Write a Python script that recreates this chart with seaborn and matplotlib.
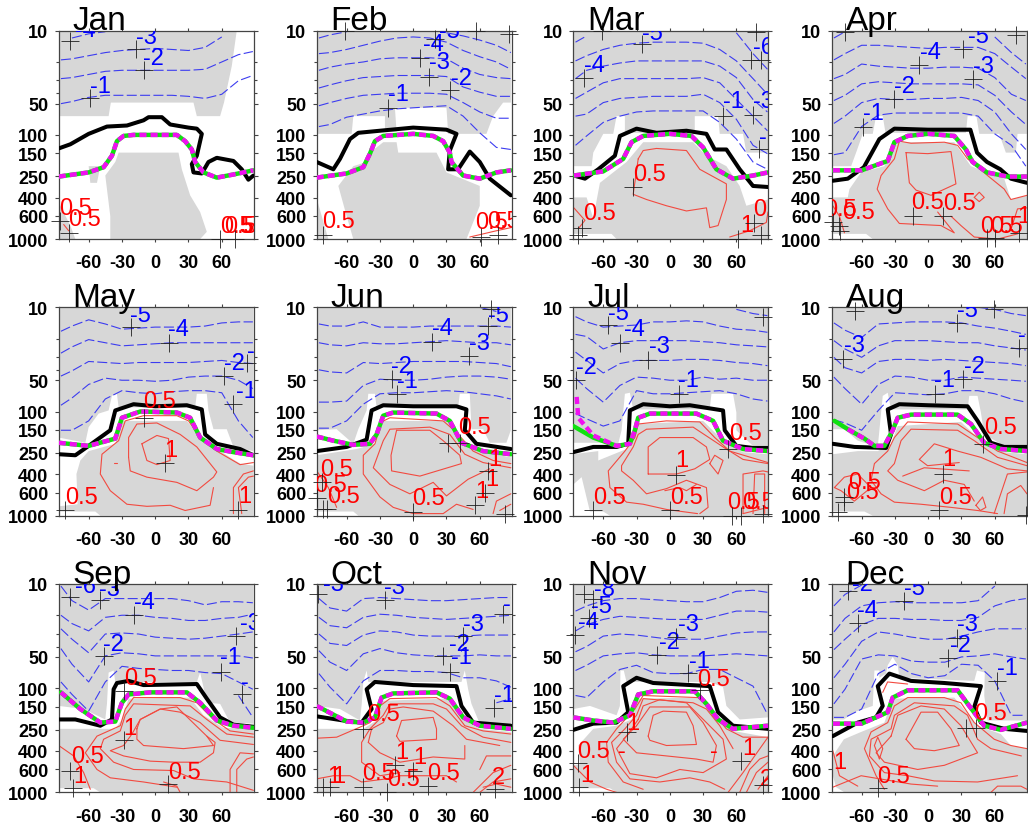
import numpy as np
import pandas as pd
import matplotlib
matplotlib.use("Agg")
import matplotlib.pyplot as plt
import seaborn as sns

# pressure values below are stored as 100*log10(p/hPa): 100 = 10 hPa, 300 = 1000 hPa
months = ['Jan', 'Feb', 'Mar', 'Apr', 'May', 'Jun', 'Jul', 'Aug', 'Sep', 'Oct', 'Nov', 'Dec']
lat_ticks = [-60, -30, 0, 30, 60]
p_ticks = [10, 50, 100, 150, 250, 400, 600, 1000]
p_minor = [20, 30, 40]
blue_lat = [-85, -75, -60, -45, -30, -15, 0, 15, 30, 45, 60, 75, 88]
N = None

# ---- January
jan_blue = [
    [N, 107, 103, 101, N, N, N, N, N, N, N, N, N],
    [128, 127, 124, 121, 119, 118, 117, 118, 119, 116, 106, N, N],
    [146, 145, 142, 139, 138, 138, 138, 138, 138, 137, 130, 123, 120],
    [170, 168, 164, 162, 162, 162, 162, 162, 163, 165, 161, 148, 143],
]
jan_black = ([-87, -76.5, -60, -43.5, -25.5, -10.5, -6, 6, 13.5, 30, 37.5, 42, 37.5, 33, 34.5, 42, 48, 55.5, 70.5, 78, 84, 88.5],
             [213, 209, 199, 192, 191, 186, 183, 183, 190, 193, 194, 199, 220, 228, 236, 237, 226, 222, 225, 233, 243, 239])
jan_mag = ([-87, -60, -46.5, -39, -34.5, -28.5, -19.5, 19.5, 27, 33, 36, 43.5, 55.5, 70.5, 88.5],
           [240, 236, 231, 220, 206, 201, 200, 200, 206, 214, 226, 236, 241, 238, 234])
jan_green = jan_mag
jan_grey = [
    ([-87, 73.5, 69, 62, 58.5, 37.5, 34.5, -40, -42, -87], [100, 100, 134, 169, 182, 182, 169, 169, 182, 182]),
    ([-33, 21, 24, 31.5, 40.5, 46.5, 40.5, -40.5, -40.5, -45, -36], [217, 217, 233, 258, 274, 293, 300, 300, 278, 239, 226]),
    ([-60, -49.5, -52.5, -58.5], [230, 230, 246, 246]),
    ([-87, -76.5, -72, -87], [265, 287, 300, 300]),
]
jan_red = [([-82.5, -78], [286, 292])]
jan_cross = [(-77, 110), (-17, 118), (-10.5, 138), (-59, 165), (-86, 283), (-78, 294), (58.5, 300), (72, 300)]
jan_text_blue = [(-49.5, 153, '-1'), (-1.5, 126, '-2'), (-7.5, 106, '-3'), (-63, 99, '-4')]
jan_text_red = [(-72, 270, '0.5'), (-63.6, 281, '0.5'), (73, 287, '0.5'), (77, 287, '0.5'), (82, 287, '5')]

# ---- February
feb_blue = [
    [107, 104, 101, N, N, N, N, N, 102, 105, 109, 114, 121],
    [122, 121, 118, 114, 110, 107, 106, 107, 111, 119, 125, 130, 137],
    [138, 135, 132, 130, 127, 126, 126, 126, 127, 136, 142, 145, 146],
    [155, 152, 148, 145, 144, 143, 143, 143, 144, 154, 159, 163, 163],
    [172, 169, 165, 162, 161, 160, 160, 160, 161, 169, 178, 184, 184],
    [192, 190, 183, 180, 177, 175, 174, 173, 172, 182, 198, 212, 214],
]
feb_black = ([-87, -72, -66, -57, -49.5, -30, 0, 30, 39, 33, 31.5, 40.5, 51, 60, 69, 88],
             [226, 233, 223, 204, 198, 196, 193, 195, 199, 215, 233, 233, 216, 226, 242, 258])
feb_mag = ([-87, -60, -45, -39, -34.5, -27, 0, 18, 27, 33, 34.5, 45, 60, 75, 88],
           [241, 237, 231, 218, 206, 201, 199, 201, 206, 217, 226, 239, 242, 236, 234])
feb_green = feb_mag
feb_grey = [
    ([-87, 88, 88, 81, 72, 66, 31.5, 30, -16.5, -15, -25.5, -25.5, -54, -55.5, -87],
     [100, 100, 169, 169, 182, 199, 199, 174, 174, 197, 197, 182, 182, 199, 199]),
    ([-42, -39, -27, -15, -13.5, 21, 30, 60, 60, 48, -54, -60, -67.5, -54],
     [226, 217, 207, 207, 217, 217, 236, 249, 268, 300, 300, 278, 249, 230]),
    ([-87, -76.5, -87], [261, 300, 300]),
]
feb_red = [([51, 75, 88], [298, 292, 289])]
feb_cross = [(-61.5, 100), (19.5, 108), (6, 126), (14, 144), (33.6, 157), (-22.5, 174), (57, 100), (86, 103),
             (-81.6, 296), (61.5, 298), (76.5, 296)]
feb_text_blue = [(33, 100, '-5'), (18, 113, '-4'), (23.4, 130, '-3'), (43.5, 145, '-2'), (-13.5, 161, '-1')]
feb_text_red = [(-67, 283, '0.5'), (70.5, 284, '0.5'), (81, 283, '0.5')]

# ---- March
mar_blue = [
    [111, 105, N, N, N, N, N, N, N, N, 102, 122, 137],
    [129, 124, 118, 114, 112, 111, 111, 111, 112, 118, 129, 146, 161],
    [146, 138, 134, 131, 129, 129, 129, 129, 129, 134, 145, 166, 178],
    [165, 159, 150, 146, 146, 146, 146, 146, 145, 150, 166, 182, 196],
    [182, 180, 169, 165, 164, 163, 163, 163, 161, 169, 185, 210, 218],
    [210, 201, 188, 182, 178, 177, 177, 177, 177, 188, 204, 226, 233],
]
mar_black = ([-86.5, -76.5, -64.5, -49.5, -45, -30, -12, 15, 33, 40.5, 51, 63, 75, 88.5],
             [239, 242, 233, 220, 201, 194, 198, 196, 199, 214, 214, 233, 249, 250])
mar_mag = ([-86.5, -60, -42, -34.5, -24, 0, 19.5, 30, 42, 57, 75, 88.5],
           [239, 235, 223, 207, 201, 199, 201, 212, 233, 242, 239, 236])
mar_green = mar_mag
mar_grey = [
    ([-87, 88.5, 88.5, 69, 66, 45, 43.5, 22.5, 22.5, -40.5, -40.5, -48, -51, -60, -69, -70.5, -87],
     [100, 100, 217, 217, 199, 199, 182, 182, 198, 198, 182, 182, 199, 199, 217, 230, 230]),
    ([-63, -39, -24, 21, 33, 51, 63, 69, 88.5, 88.5, -48, -52.5, -87, -87, -75, -69],
     [246, 226, 207, 207, 220, 230, 249, 268, 262, 300, 300, 295, 295, 260, 260, 280]),
]
mar_red = [
    ([-28.5, -24, -12, 15, 27, 51, 51, 43.5, 36, 33, 15, -3, -21, -33, -28.5],
     [223, 215, 213, 215, 233, 247, 262, 287, 289, 270, 273, 268, 262, 257, 223]),
    ([-86.5, -76.5, -82.5], [270, 282, 290]),
    ([54, 72, 87, 88.5], [298, 292, 284, 274]),
]
mar_cross = [(-61.5, 100), (-25, 113), (-77, 145), (78, 101), (73.5, 128), (82.5, 128), (48, 182), (75, 181),
             (80, 214), (-33.6, 250), (-79.5, 289), (-82.5, 296), (76, 285), (61.5, 300), (82.5, 296)]
mar_text_blue = [(-15.6, 102, '-5'), (-67.5, 133, '-4'), (84.6, 116, '-6'), (57, 167, '-1'), (84, 167, '-3'), (84, 202, '-')]
mar_text_red = [(-18.6, 238, '0.5'), (-63, 275, '0.5'), (69, 286, '1'), (81, 271, '0')]

# ---- April
apr_blue = [
    [107, 101, N, N, N, N, N, N, N, N, 106, 121, 132],
    [128, 122, 114, 114, 115, 116, 117, 116, 116, 116, 122, 135, 146],
    [146, 142, 132, 134, 135, 136, 136, 135, 135, 136, 145, 161, 167],
    [167, 162, 151, 149, 150, 151, 151, 151, 151, 152, 162, 178, 190],
    [189, 182, 169, 165, 166, 166, 165, 165, 164, 167, 178, 199, 214],
    [219, 217, 192, 181, 179, 179, 179, 179, 179, 182, 199, 210, 230],
]
apr_black = ([-86, -72.5, -58, -44, -30.5, 0, 38, 44, 53, 65, 74.5, 89],
             [244, 242, 231, 204, 194, 195, 195, 217, 226, 233, 242, 246])
apr_mag = ([-86, -60, -36.5, -30.5, -18.5, 0, 23.5, 34, 40, 53, 71.5, 89],
           [234, 234, 225, 207, 201, 199, 201, 214, 226, 236, 240, 240])
apr_green = apr_mag
apr_grey = [
    ([-86, 89, 89, 80.5, 79, 70, 64, 46, 43.5, 35.5, 34, -38.5, -41, -47, -50, -59, -65, -69.5, -86],
     [100, 100, 199, 199, 217, 217, 199, 199, 182, 182, 198, 198, 182, 182, 199, 199, 217, 230, 230]),
    ([-71, -60.5, -39.5, -30.5, 23.5, 38.5, 53.5, 68.5, 74.5, 89, 89, -50, -56, -86, -86, -72.5],
     [252, 236, 230, 207, 207, 230, 236, 242, 262, 258, 300, 300, 295, 295, 260, 260]),
]
apr_red = [
    ([89, 74.5, 68.5, 53.5, 35.5, 26.5, 14.5, -15.5, -26, -30.5, -42.5, -46, -36.5, -26, 11.5, 23.5, 14.5, 8.5],
     [258, 262, 252, 239, 223, 210, 207, 208, 206, 223, 239, 252, 271, 285, 287, 294, 282, 274]),
    ([-20, -0.5, 20.5, 25, 2.5, -11, -17, -20], [217, 218, 216, 247, 258, 253, 246, 217]),
    ([20.5, 29.5, 41.5, 62.5, 80.5], [278, 287, 298, 300, 295]),
    ([41.5, 46, 50.5, 46, 41.5], [260, 255, 260, 264, 260]),
    ([74.5, 80.5, 89], [291, 271, 270]),
    ([-86, -80, -75.5], [268, 278, 294]),
]
apr_cross = [(-75, 101), (-8, 133), (31.5, 118), (79, 104), (40, 146), (-30.6, 166), (-58.5, 192), (-14, 278),
             (13, 278), (-86, 284), (-80, 287), (-79.5, 292), (53, 299), (60, 299), (82, 294)]
apr_text_blue = [(45, 105, '-5'), (1.8, 120, '-4'), (50, 134, '-3'), (-21, 153, '-2'), (-49, 179, '-1')]
apr_text_red = [(-0.6, 264, '0.5'), (28, 265, '0.5'), (-79, 271, '0.5'), (-63, 274, '0.5'), (62, 287, '0.5'),
                (71, 287, '0.5'), (86, 278, '1')]

# ---- May
may_blue = [
    [123, 118, 112, 116, 121, 120, 119, 119, 119, 118, 115, 114, 114],
    [144, 138, 131, 134, 137, 136, 135, 134, 134, 134, 134, 134, 134],
    [166, 161, 152, 153, 154, 153, 153, 153, 153, 152, 151, 153, 154],
    [194, 187, 174, 168, 170, 170, 171, 170, 167, 166, 166, 170, 178],
    [218, 218, 209, 188, 180, 182, 183, 181, 180, 180, 182, 209, 225],
]
may_black = ([-87, -72, -60, -40.5, -36, -19.5, 0, 28.5, 42, 45, 55.5, 76.5, 88.5],
             [241, 242, 233, 218, 199, 193, 195, 194, 198, 222, 231, 236, 242])
may_mag = ([-87, -60, -36, -30, -13.5, 19.5, 31.5, 40.5, 55.5, 70.5, 88.5],
           [230, 233, 226, 206, 200, 201, 206, 225, 236, 239, 242])
may_green = may_mag
may_grey = [
    ([-87, 88.5, 88.5, 70.5, 64.5, 52.5, 48, 46.5, 37.5, 36, -33, -34.5, -39, -42, -51, -60, -63, -87],
     [100, 100, 238, 234, 217, 217, 199, 183, 183, 196, 196, 183, 185, 199, 202, 215, 230, 225]),
    ([-67.5, -60, -36, -30, 28.5, 43.5, 58.5, 76.5, 88.5, 88.5, -49.5, -54, -87, -87, -70, -71],
     [247, 238, 231, 209, 209, 228, 238, 250, 252, 300, 300, 296, 296, 291, 289, 260]),
]
may_red = [
    ([-24, -22.5, -7.5, 19.5, 37.5, 52.5, 55.5, 37.5, 22.5, 1.5, -16.5, -24, -24],
     [244, 257, 263, 268, 276, 263, 258, 234, 222, 211, 212, 225, 244]),
    ([88.5, 76.5, 55.5, 40.5, 30, 19.5, -10.5, -27, -33, -48, -49.5, -40.5, -25.5, -7.5, 13.5, 27, 49.5, 52.5],
     [249, 251, 238, 225, 209, 204, 204, 209, 228, 241, 260, 276, 289, 291, 290, 295, 290, 273]),
    ([-12, 1.5, 12, 13.5, 1.5, -7.5, -12], [231, 223, 226, 247, 251, 247, 231]),
    ([70.5, 70.5, 79.5, 88.5], [298, 273, 260, 257]),
    ([78, 75, 84, 88.5], [298, 273, 263, 262]),
    ([-37.5, -34.5], [249, 249]),
]
may_cross = [(-22, 119), (12, 134), (83, 153), (62, 166), (70.5, 193), (-10.5, 206), (8.4, 249), (-81.6, 295), (75, 295)]
may_text_blue = [(-13, 107, '-5'), (21, 121, '-4'), (71, 153, '-2'), (82.5, 180, '-1'), (86, 142, '-')]
may_text_red = [(3.6, 190, '0.5'), (14.4, 237, '1'), (-66.6, 282, '0.5'), (81, 281, '1')]

# ---- June
jun_blue = [
    [N, N, N, N, N, N, N, N, N, N, 100, 104, N],
    [116, 118, 118, 114, 119, 119, 119, 118, 118, 118, 118, 118, 119],
    [134, 136, 137, 134, 135, 135, 134, 133, 132, 133, 134, 134, 136],
    [160, 162, 163, 153, 154, 153, 152, 152, 152, 152, 153, 154, 157],
    [191, 191, 190, 175, 169, 170, 170, 169, 167, 166, 166, 167, 169],
    [216, 216, 209, 193, 183, 182, 182, 181, 180, 181, 183, 185, 188],
]
jun_black = ([-87, -60, -42, -37.5, -27, 0, 39, 48, 46.5, 57, 88],
             [238, 234, 227, 199, 194, 195, 195, 198, 218, 231, 236])
jun_mag = ([-87, -72, -54, -39, -33, -27, -18, 21, 33, 43.5, 63, 88],
           [224, 228, 232, 231, 222, 204, 201, 202, 209, 230, 238, 241])
jun_green = jun_mag
jun_grey = [
    ([-87, 88, 88, 84, 69, 63, 52.5, 51, 42, 40.5, -33, -34.5, -40.5, -42, -49.5, -54, -69, -87],
     [100, 100, 218, 230, 230, 217, 217, 183, 183, 196, 196, 183, 183, 199, 217, 231, 217, 218]),
    ([-87, -69, -51, -34.5, -27, 30, 45, 63, 88, 88, -49.5, -54, -87],
     [242, 239, 236, 231, 209, 209, 231, 239, 244, 300, 300, 296, 296]),
]
jun_red = [
    ([88, 72, 54, 39, 27, -21, -28.5, -34.5, -45, -45, -30, -18, 0, 27, 39, 54],
     [250, 247, 238, 220, 209, 206, 210, 231, 242, 260, 282, 292, 298, 298, 289, 294]),
    ([88, 63, 46.5, 33, 15, -21, -27, -36, -36, -21, -3, 18, 30, 49.5, 69],
     [254, 249, 241, 222, 215, 217, 228, 254, 254, 270, 279, 268, 281, 265, 255]),
    ([-15, -20, -19.5, 6, 43.5, 42, 27, 15, -15], [218, 242, 257, 262, 250, 242, 228, 218, 218]),
    ([-87, -76.5, -69], [257, 273, 292]),
    ([72, 75, 88], [298, 286, 279]),
    ([78, 88], [295, 289]),
]
jun_cross = [(70, 102), (67.5, 118), (17, 133), (50, 147), (-19.5, 169), (-15, 183), (31.5, 230), (42, 230),
             (67.5, 257), (64.5, 278), (55.5, 290), (-82.5, 268), (-87, 283), (-81, 294), (-78, 294), (-0.6, 296), (83, 298)]
jun_text_blue = [(76.5, 107, '-5'), (26, 120, '-4'), (60, 134, '-3'), (-10.5, 156, '-2'), (-5.4, 171, '-1')]
jun_text_red = [(55.5, 215, '0.5'), (-69, 255, '0.5'), (-75, 271, '0.5'), (-63, 281, '0.5'), (13.5, 283, '0.5'),
                (73.5, 246, '1'), (70.5, 265, '1'), (62, 276, '1')]

# ---- July
jul_blue = [
    [N, N, N, N, N, N, N, N, N, N, 102, 106, 108],
    [109, 114, 119, 118, 117, 114, 114, 113, 114, 118, 121, 122, 124],
    [126, 128, 140, 134, 132, 132, 132, 132, 133, 134, 136, 137, 138],
    [143, 151, 163, 154, 151, 151, 151, 150, 150, 151, 153, 154, 156],
    [168, 178, 191, 175, 167, 168, 170, 170, 167, 169, 168, 170, 170],
    [202, 207, 214, 209, 180, 183, 183, 182, 181, 180, 183, 188, 190],
]
jul_black = ([-87, -69, -48, -37.5, -36, -24, 0, 18, 48, 49.5, 60, 75, 88.5],
             [239, 234, 234, 231, 199, 193, 195, 194, 199, 218, 233, 235, 235])
jul_mag = ([-84, -82.5, -69, -48, -36, -31.5, -28.5, -18, 24, 39, 48, 66, 88.5],
           [186, 206, 223, 233, 231, 218, 206, 202, 202, 209, 228, 236, 238])
jul_green = ([-87, -69, -48, -36, -31.5, -28.5, -18, 24, 39, 48, 66, 88.5],
             [214, 225, 233, 231, 218, 206, 202, 202, 209, 228, 236, 238])
jul_grey = [
    ([-87, 88.5, 88.5, 75, 60, 60, 57, 37.5, 36, -33, -36, -40.5, -43.5, -46.5, -64.5, -87],
     [100, 100, 236, 233, 218, 201, 183, 183, 198, 198, 182, 183, 218, 231, 230, 230]),
    ([-87, -64.5, -64.5, -39, -34.5, -28.5, 30, 48, 66, 88.5, 88.5, -54, -60, -72, -79.5, -87],
     [241, 238, 247, 236, 231, 212, 209, 228, 239, 241, 300, 300, 296, 296, 263, 270]),
]
jul_red = [
    ([88.5, 54, 40.5, 27, -3, -28.5, -31.5, -40.5, -55.5, -54, -39, -24, -3, 25],
     [249, 238, 225, 210, 209, 212, 225, 238, 257, 273, 287, 289, 294, 298]),
    ([88.5, 66, 48, 21, -21, -28.5, -33, -43.5, -43.5, -33, -21, -3, 15, 33, 34.5, 27],
     [250, 246, 234, 215, 217, 222, 234, 252, 257, 266, 279, 274, 266, 273, 292, 298]),
    ([-19.5, -19.5, -9, 21, 33, 36, 22.5, 6, -19.5], [260, 234, 225, 225, 234, 246, 255, 260, 260]),
    ([36, 40.5, 48, 43.5, 36], [250, 242, 247, 260, 250]),
    ([-4.5, 9, 15, 24], [276, 273, 276, 270]),
    ([66, 66, 84, 88.5], [298, 260, 257, 258]),
    ([75, 76.5, 85.5, 85.5], [298, 260, 260, 298]),
    ([66, 88.5], [298, 292]),
]
jul_cross = [(84, 109), (-55.5, 117), (-45, 134), (-19.5, 151), (-85, 170), (8.4, 183), (5.4, 261), (52.5, 236),
             (-69, 295), (0, 295), (56.4, 300), (64.5, 300), (84, 298)]
jul_text_blue = [(-46.5, 105, '-5'), (-31.5, 121, '-4'), (-9, 137, '-3'), (-75, 157, '-2'), (16.5, 170, '-1')]
jul_text_red = [(68, 221, '0.5'), (11, 247, '1'), (-54.6, 282, '0.5'), (15, 282, '0.5'), (66, 287, '0.5'), (79.5, 287, '0.5')]

# ---- August
aug_blue = [
    [N, N, N, N, N, N, N, N, N, 100, 102, 106, 108],
    [115, 122, 129, 116, 115, 114, 114, 114, 115, 118, 120, 123, 126],
    [132, 140, 148, 137, 132, 132, 132, 133, 134, 134, 137, 139, 141],
    [148, 158, 163, 152, 150, 150, 151, 150, 151, 152, 153, 154, 156],
    [167, 178, 193, 174, 166, 167, 170, 170, 167, 168, 169, 170, 171],
    [208, 211, 218, 199, 182, 183, 184, 183, 180, 180, 183, 188, 191],
]
aug_black = ([-86, -66.5, -38, -33.5, -36.5, -26, 0, 35.5, 44.5, 56.5, 68.5, 89],
             [231, 234, 235, 222, 198, 193, 194, 195, 209, 230, 234, 234])
aug_mag = ([-72.5, -57.5, -48.5, -39.5, -32, -27.5, -15.5, 26.5, 38.5, 50.5, 65.5, 89],
           [217, 226, 233, 233, 218, 206, 203, 203, 212, 230, 236, 238])
aug_green = ([-84.5, -72.5, -57.5, -48.5, -39.5, -32, -27.5, -15.5, 26.5, 38.5, 50.5, 65.5, 89],
             [209, 217, 226, 233, 233, 218, 206, 203, 203, 212, 230, 236, 238])
aug_grey = [
    ([-86, 89, 89, 68.5, 50.5, 47.5, 44.5, 37, 35.5, -33.5, -36.5, -41, -44, -45.5, -63.5, -75.5, -86],
     [100, 100, 236, 233, 222, 201, 185, 185, 198, 198, 182, 185, 218, 234, 228, 217, 217]),
    ([-86, -63.5, -45.5, -33.5, -27.5, 29.5, 50.5, 68.5, 89, 89, -50, -57.5, -86],
     [241, 238, 238, 231, 214, 210, 231, 239, 241, 300, 300, 296, 296]),
]
aug_red = [
    ([89, 62.5, 44.5, 26.5, -18.5, -30.5, -36.5, -48.5, -51.5, -42.5, -30.5, -6.5, 20.5, 44.5, 62.5],
     [249, 238, 225, 212, 210, 225, 238, 250, 266, 279, 287, 289, 292, 295, 298]),
    ([89, 62.5, 41.5, 26.5, -15.5, -24.5, -30.5, -36.5, -27.5, -3.5, 14.5, 32.5, 41.5],
     [252, 244, 228, 218, 217, 228, 250, 257, 266, 276, 266, 270, 286]),
    ([-8, 5.5, 14.5, 26.5, 47.5, 71.5, 89], [246, 231, 234, 238, 244, 255, 257]),
    ([-8, -0.6, 28], [246, 252, 249]),
    ([-23, -3.6, 37], [262, 254, 257]),
    ([-84.6, -75.6, -63.6, -51.6, -66.6, -78.6, -84.6], [273, 263, 260, 273, 286, 276, 273]),
    ([59.4, 65.4, 71.4, 89], [298, 279, 260, 258]),
    ([68.4, 71.4, 83.4, 89], [298, 279, 271, 279]),
    ([43, 49, 52, 47, 43], [290, 282, 292, 295, 290]),
]
aug_cross = [(-66, 104), (59.4, 102), (25.5, 115), (-77, 150), (82, 139), (31.5, 169), (6.3, 183), (13, 260),
             (49, 231), (10, 295), (-75.6, 287), (-75.6, 282), (-81.6, 296), (88, 299)]
aug_text_blue = [(35.4, 103, '-5'), (84, 127, '-'), (-66.6, 136, '-3'), (41.4, 156, '-2'), (14.4, 170, '-1')]
aug_text_red = [(65.4, 215, '0.5'), (19, 246, '1'), (-57.6, 268, '0.5'), (-59, 277, '0.5'), (24.3, 282, '0.5')]

# ---- September
sep_blue = [
    [102, 116, 125, 114, 114, 114, 114, 114, 116, 120, 117, 117, 118],
    [130, 138, 145, 132, 130, 130, 132, 133, 135, 135, 133, 132, 129],
    [143, 153, 166, 148, 147, 148, 151, 152, 153, 152, 150, 148, 146],
    [162, 177, 194, 169, 166, 167, 169, 169, 169, 169, 169, 169, 171],
    [194, 206, 222, 194, 179, 181, 182, 183, 183, 185, 186, 194, 201],
    [N, N, N, N, N, N, N, N, N, N, N, 207, 228],
]
sep_black = ([-87, -72, -49.5, -39, -37.5, -34.5, -24, -10.5, 37.5, 46.5, 58.5, 70.5, 88.5],
             [230, 230, 236, 230, 201, 195, 193, 197, 196, 210, 228, 235, 237])
sep_mag = ([-85, -67.5, -49.5, -36, -30, -24, -4.5, 28.5, 40.5, 55.5, 70.5, 88.5],
           [204, 220, 233, 232, 214, 206, 204, 204, 214, 231, 236, 238])
sep_green = sep_mag
sep_grey = [
    ([-87, 88.5, 88.5, 67.5, 58.5, 46.5, 43.5, 40.5, 37.5, -36, -37.5, -42, -43.5, -45, -64.5, -87],
     [100, 100, 234, 233, 215, 214, 199, 185, 194, 194, 183, 185, 215, 230, 220, 217]),
    ([-87, -36, -30, -24, 31.5, 43.5, 61.5, 88.5, 88.5, -49.5, -55.5, -87],
     [239, 239, 230, 210, 209, 226, 238, 239, 300, 300, 296, 296]),
]
sep_red = [
    ([88.5, 67.5, 52.5, 37.5, 22.5, -19.5, -27, -31.5, -52.5, -63, -52.5, -40.5, -10.5, 19.5],
     [244, 241, 230, 214, 209, 209, 220, 236, 246, 262, 278, 286, 290, 295]),
    ([88.5, 64.5, 46.5, 31.5, -19.5, -27, -31.5, -46.5, -49.5, -37.5, -19.5, 16.5, 34.5, 64.5, 88.5],
     [247, 244, 230, 217, 215, 226, 241, 249, 258, 271, 278, 279, 287, 290, 298]),
    ([88.5, 58.5, 40.5, 22.5, 4.5, -13.5, -21, -28.5, -40.5, -28.5, -4.5, 16.5, 40.5, 52.5, 54, 46.5],
     [254, 250, 233, 223, 220, 230, 244, 255, 260, 265, 270, 271, 271, 262, 252, 246]),
    ([-16.5, -13.5, 4.5, 19.5, 46.5, 52.5, 25.5, -10.5, -16.5, -16.5], [239, 230, 220, 218, 246, 255, 258, 255, 249, 239]),
    ([-87, -73.5, -64.5, -58.5], [255, 265, 281, 297]),
    ([67.5, 67.5, 76.5, 88.5], [300, 278, 262, 263]),
    ([73.5, 73.5, 82.5, 88.5], [300, 278, 268, 266]),
    ([7.5, 19.5, 22.5], [290, 294, 300]),
]
sep_cross = [(-76.5, 112), (-50, 115), (-19, 130), (73, 150), (-46.5, 169), (59.4, 184), (78, 206), (-28, 203),
             (-28.5, 250), (-76.5, 279), (-74, 296), (11.4, 292)]
sep_text_blue = [(-63, 102, '-6'), (-41, 105, '-3'), (-10, 117, '-4'), (85.5, 137, '-3'), (-37.5, 158, '-2'),
                 (67.5, 170, '-1'), (81, 194, '-')]
sep_text_red = [(-13.5, 190, '0.5'), (-22.5, 238, '1'), (-61, 265, '0.5'), (-68, 284, '1'), (26, 280, '0.5')]

# ---- October
oct_blue = [
    [114, 123, 126, 114, 113, 114, 115, 116, 116, 115, 114, 113, 113],
    [132, 140, 142, 132, 129, 130, 132, 133, 134, 133, 132, 131, 130],
    [148, 157, 159, 149, 145, 146, 149, 150, 150, 150, 149, 149, 149],
    [164, 175, 183, 167, 162, 166, 168, 169, 169, 169, 168, 169, 169],
    [186, 199, 215, 193, 183, 183, 184, 184, 185, 190, 190, 193, 199],
    [N, N, N, N, N, N, N, N, N, N, N, 214, 210],
]
oct_black = ([-87, -63, -46.5, -37.5, -42, -34.5, 0, 39, 43.5, 54, 88],
             [227, 231, 233, 220, 201, 194, 197, 198, 217, 233, 236])
oct_mag = ([-87, -60, -45, -34.5, -28.5, -18, 21, 33, 45, 60, 88],
           [217, 232, 233, 228, 209, 205, 204, 210, 228, 236, 239])
oct_green = oct_mag
oct_grey = [
    ([-87, 88, 88, 60, 52.5, 49.5, 46.5, 43.5, -40.5, -42, -45, -46.5, -48, -66, -87],
     [100, 100, 236, 234, 215, 201, 183, 194, 194, 183, 194, 216, 231, 220, 217]),
    ([-87, -45, -33, -27, 30, 45, 60, 88, 88, -87], [239, 239, 231, 212, 210, 230, 239, 242, 300, 300]),
]
oct_red = [
    ([-87, -69, -45, -39, -30, -21, 21, 33, 46.5, 63, 88], [248, 247, 236, 233, 217, 210, 209, 217, 236, 241, 244]),
    ([88, 63, 43.5, 30, 18, -21, -27, -39, -46.5, -46.5, -30, -12],
     [252, 247, 236, 220, 215, 215, 226, 239, 252, 271, 284, 281]),
    ([-40.5, -37.5, -27, -21, -9, 18, 36, 48, 78], [252, 239, 233, 220, 218, 222, 236, 249, 255]),
    ([-40.5, -30, -12, 18, 46.5, 46.5], [252, 262, 271, 266, 268, 255]),
    ([-15, -10.5, 18, 21, 21, -12, -15], [246, 231, 228, 239, 249, 251, 246]),
    ([-87, -72, -57, -46.5, -24, -12, 12, 30, 39], [287, 284, 284, 290, 287, 284, 284, 284, 290]),
    ([54, 72, 88], [300, 281, 274]),
    ([60, 72, 88], [300, 290, 287]),
    ([60, 66, 88], [278, 265, 265]),
    ([63, 75, 88], [295, 292, 295]),
]
oct_cross = [(-85.5, 110), (-25.5, 115), (81, 129), (45, 150), (27, 169), (33.6, 184), (73, 219), (-45, 239),
             (-16.5, 274), (0, 279), (-81.6, 295), (-75, 295), (-45, 295), (-23.4, 300), (13, 294), (73.5, 297)]
oct_text_blue = [(-72, 100, '-3'), (-16.5, 103, '-3'), (54, 138, '-3'), (41.4, 158, '-2'), (43.5, 170, '-1'),
                 (82.5, 207, '-1'), (84, 119, '-')]
oct_text_red = [(-27, 225, '0.5'), (-72, 284, '1'), (-67.5, 284, '1'), (-31.5, 281, '0.5'), (-9, 287, '0.5'),
                (27, 281, '0.5'), (-10.5, 261, '1'), (6, 266, '1'), (77, 285, '2')]

# ---- November
nov_blue = [
    [126, 121, 116, 114, 114, 115, 116, 117, 117, 113, 107, 106, 108],
    [145, 139, 134, 131, 132, 133, 134, 134, 134, 130, 126, 126, 127],
    [165, 160, 150, 148, 149, 151, 153, 153, 153, 150, 147, 146, 146],
    [183, 178, 169, 167, 166, 168, 169, 169, 169, 168, 167, 168, 169],
    [207, 209, 194, 182, 178, 185, 186, 186, 182, 182, 190, 198, 225],
]
nov_black = ([-87, -69, -48, -37.5, -42, -30, -15, 36, 43.5, 57, 88.5],
             [240, 234, 233, 223, 198, 190, 195, 198, 223, 236, 239])
nov_mag = ([-87, -69, -51, -36, -28.5, -15, 22.5, 33, 43.5, 57, 88.5],
           [228, 231, 233, 226, 206, 203, 203, 215, 230, 239, 236])
nov_green = nov_mag
nov_grey = [
    ([-87, 88.5, 88.5, 63, 51, 48, 36, -39, -41.5, -44.5, -45, -48, -72, -87],
     [100, 100, 228, 230, 217, 199, 194, 194, 183, 183, 217, 226, 217, 220]),
    ([-69, -48, -34.5, -28.5, 27, 42, 57, 88.5, 88.5, -48, -54, -87, -87, -81, -82.5],
     [239, 236, 230, 210, 209, 230, 241, 247, 300, 300, 296, 296, 274, 273, 255]),
]
nov_red = [
    ([88.5, 66, 51, 36, 25.5, -24, -31.5, -48, -57, -55.5, -42, -24], [247, 247, 239, 220, 209, 207, 220, 239, 252, 271, 290, 297]),
    ([57, 45, 33, 21, -24, -30, -40.5, -52.5, -48, -36, -9, 18, 36, 49.5],
     [258, 236, 220, 214, 210, 226, 239, 252, 271, 287, 290, 286, 290, 297]),
    ([-28.5, -24, -9, 15, 33, 48, 51, 30, 9, -12, -36, -48, -39, -28.5],
     [230, 217, 211, 214, 233, 249, 268, 281, 278, 286, 282, 258, 246, 230]),
    ([-30, -18, 18, 30, 42, 39, 24, -3, -30, -42, -30], [236, 218, 218, 233, 255, 271, 268, 265, 262, 249, 236]),
    ([-19.5, -15, -6, 15, 21, 24, -3, -18, -19.5], [246, 226, 222, 223, 236, 254, 255, 250, 246]),
    ([52.5, 66, 76.5, 88.5], [300, 281, 265, 247]),
    ([63, 72, 81, 88.5], [300, 278, 268, 265]),
    ([69, 78, 88.5], [300, 281, 271]),
    ([79.5, 88.5], [297, 284]),
    ([-87, -72, -57, -48], [274, 290, 297, 300]),
]
nov_cross = [(-77.4, 110), (-69, 114), (-73, 133), (-85.5, 149), (6, 151), (-12, 168), (16.5, 185), (27, 202),
             (-39, 242), (-82.5, 272), (64.5, 270), (-81.6, 295), (84, 293)]
nov_text_blue = [(-58.5, 105, '-8'), (-61.5, 121, '-5'), (-73.5, 136, '-4'), (16.5, 138, '-3'), (0, 156, '-2'), (27, 174, '-1')]
nov_text_red = [(-69, 260, '0.5'), (39.6, 191, '0.5'), (71.4, 257, '1'), (-75, 283, '1'), (-43.5, 260, '-'),
                (39.6, 260, '-'), (-33, 233, '1'), (87, 287, '2')]

# ---- December
dec_blue = [
    [121, 110, 101, N, N, N, N, N, N, N, N, N, N],
    [146, 133, 121, 118, 117, 118, 118, 118, 118, 116, 102, N, N],
    [163, 153, 139, 133, 133, 134, 134, 135, 135, 132, 121, 116, 114],
    [190, 177, 155, 146, 148, 151, 153, 153, 150, 146, 143, 143, 143],
    [215, 201, 172, 168, 169, 174, 175, 175, 170, 169, 167, 170, 172],
    [228, 228, 220, 186, 177, 186, 190, 188, 177, 178, 193, 226, 226],
]
dec_black = ([-86, -63.5, -47, -41, -45.5, -35, -15.5, 14.5, 47.5, 41.5, 47.5, 68.5, 89],
             [246, 233, 228, 217, 198, 186, 193, 195, 198, 218, 233, 239, 241])
dec_mag = ([-86, -60, -36.5, -32, -18.5, 26.5, 37, 50.5, 65.5, 89],
           [234, 234, 223, 209, 202, 202, 217, 236, 240, 233])
dec_green = dec_mag
dec_grey = [
    ([-86, 89, 89, 53.5, 50.5, 51, 44, 41.5, -26, -27.5, -32, -36.5, -38, -44, -44, -48.5, -50, -66.5, -76, -86],
     [100, 100, 231, 231, 207, 185, 183, 193, 190, 178, 170, 178, 186, 190, 183, 183, 217, 223, 230, 230]),
    ([-76, -60.5, -39.5, -32, 23.5, 44.5, 65.5, 74.5, 89, 89, -75.5, -83, -86, -86],
     [249, 242, 233, 210, 209, 236, 244, 255, 258, 300, 300, 295, 284, 265]),
]
dec_red = [
    ([-41, -36.6, -18.6], [204, 194, 196]),
    ([89, 74.5, 59.5, 41.5, 29.5, 14.5, -18.5, -30.5, -36.5, -51.5, -57.5, -47, -39.5],
     [258, 255, 249, 233, 214, 209, 209, 217, 233, 242, 258, 284, 297]),
    ([84, 56.5, 44.5, 35.5, 23.5, -12.5, -30.5, -33.5, -51.5, -53, -39.5, -18.5, 5.5, 44.5, 80.5],
     [265, 258, 249, 226, 217, 214, 226, 239, 249, 265, 281, 284, 289, 290, 284]),
    ([-33.5, -27.5, -6.5, 14.5, 29.5, 44.5, 14.5, -9.5, -39.5, -47, -33.5], [246, 226, 217, 220, 236, 262, 274, 278, 271, 262, 246]),
    ([-20, -6.5, 8.5, 20.5, 28, 5.5, -12.5, -20], [249, 223, 223, 239, 255, 260, 258, 249]),
    ([-48.5, -45.5, -41, -44, -48.5], [255, 247, 258, 268, 255]),
    ([-86, -80, -63.5], [260, 284, 294]),
    ([-86, -60.5, -15.5, 8.5], [295, 284, 292, 294]),
    ([56.5, 62.5, 83.5, 89], [300, 294, 294, 297]),
]
dec_cross = [(-72.6, 107), (-21.6, 116), (-63.6, 137), (25.5, 152), (17.4, 171), (62.4, 193), (34, 238), (43, 238), (-45.6, 296)]
dec_text_blue = [(-59, 100, '-2'), (-12.6, 104, '-5'), (-54.6, 125, '-4'), (35.4, 138, '-3'), (29.4, 159, '-2'), (71.4, 181, '-1')]
dec_text_red = [(56.4, 224, '0.5'), (-31, 284, '0.5'), (-80, 271, '1')]

panels = [
    (jan_grey, jan_red, jan_blue, jan_black, jan_green, jan_mag, jan_cross, jan_text_blue, jan_text_red),
    (feb_grey, feb_red, feb_blue, feb_black, feb_green, feb_mag, feb_cross, feb_text_blue, feb_text_red),
    (mar_grey, mar_red, mar_blue, mar_black, mar_green, mar_mag, mar_cross, mar_text_blue, mar_text_red),
    (apr_grey, apr_red, apr_blue, apr_black, apr_green, apr_mag, apr_cross, apr_text_blue, apr_text_red),
    (may_grey, may_red, may_blue, may_black, may_green, may_mag, may_cross, may_text_blue, may_text_red),
    (jun_grey, jun_red, jun_blue, jun_black, jun_green, jun_mag, jun_cross, jun_text_blue, jun_text_red),
    (jul_grey, jul_red, jul_blue, jul_black, jul_green, jul_mag, jul_cross, jul_text_blue, jul_text_red),
    (aug_grey, aug_red, aug_blue, aug_black, aug_green, aug_mag, aug_cross, aug_text_blue, aug_text_red),
    (sep_grey, sep_red, sep_blue, sep_black, sep_green, sep_mag, sep_cross, sep_text_blue, sep_text_red),
    (oct_grey, oct_red, oct_blue, oct_black, oct_green, oct_mag, oct_cross, oct_text_blue, oct_text_red),
    (nov_grey, nov_red, nov_blue, nov_black, nov_green, nov_mag, nov_cross, nov_text_blue, nov_text_red),
    (dec_grey, dec_red, dec_blue, dec_black, dec_green, dec_mag, dec_cross, dec_text_blue, dec_text_red),
]


def hpa(v):
    return 10 ** (np.asarray(v, dtype=float) / 100)


def lines_frame(pairs):
    # long table of polylines, one id per line
    rows = []
    for i, (lats, vals) in enumerate(pairs):
        for a, b in zip(lats, vals, strict=True):
            rows.append((i, a, hpa(b)))
    return pd.DataFrame(rows, columns=['line', 'lat', 'p'])


def blue_pairs(rows):
    # a None in a row is a gap in that contour
    out = []
    for row in rows:
        la, va = [], []
        for a, b in zip(blue_lat, row, strict=True):
            if b is None:
                if la:
                    out.append((la, va))
                la, va = [], []
            else:
                la.append(a)
                va.append(b)
        if la:
            out.append((la, va))
    return out


def draw(ax, pairs, **kw):
    sns.lineplot(data=lines_frame(pairs), x='lat', y='p', units='line', estimator=None,
                 sort=False, legend=False, ax=ax, **kw)


sns.set_style('white')
plt.rcParams['font.family'] = ['Liberation Sans', 'DejaVu Sans']

W, H = 1028, 829
fig = plt.figure(figsize=(W / 100, H / 100), dpi=100)
col_left = [58.7, 316.7, 573.3, 831.7]
row_top = [31.7, 308.3, 585.0]
ax_w, ax_h = 194.8, 208.4

for k, name in enumerate(months):
    grey, red, blue, black, green, mag, cross, txt_b, txt_r = panels[k]
    left = col_left[k % 4]
    top = row_top[k // 4]
    ax = fig.add_axes([left / W, 1 - (top + ax_h) / H, ax_w / W, ax_h / H])
    ax.set_yscale('log')
    ax.set_xlim(-87, 88.6)
    ax.set_ylim(1000, 10)

    for lats, vals in grey:
        ax.fill(lats, hpa(vals), color='#d7d7d7', lw=0, zorder=0.5)

    if red:
        draw(ax, red, color='#f24a40', lw=0.8, zorder=2, solid_joinstyle='round')
    draw(ax, blue_pairs(blue), color='#3c3cf0', lw=0.8, linestyle=(0, (9, 3)), zorder=2)
    draw(ax, [black], color='black', lw=2.9, zorder=3, solid_joinstyle='round')
    draw(ax, [green], color='#10e010', lw=3.2, zorder=4, solid_joinstyle='round')
    draw(ax, [mag], color='#f010f0', lw=3.2, linestyle=(0, (1.6, 0.9)), zorder=5)

    cdf = pd.DataFrame(cross, columns=['lat', 'v'])
    cdf['p'] = hpa(cdf['v'])
    sns.scatterplot(data=cdf, x='lat', y='p', marker='+', s=170, color='#202020', linewidth=0.6,
                    legend=False, ax=ax, zorder=7, clip_on=False)

    for a, b, s in txt_b:
        ax.text(a, hpa(b), s, color='#0000ff', fontsize=17, ha='center', va='center', clip_on=True, zorder=6)
    for a, b, s in txt_r:
        ax.text(a, hpa(b), s, color='#ff0000', fontsize=17, ha='center', va='center', clip_on=True, zorder=6)

    ax.set_xticks(lat_ticks)
    ax.set_xticklabels([str(t) for t in lat_ticks], fontsize=13, fontweight='bold', color='black')
    ax.set_yticks(p_ticks)
    ax.set_yticklabels([str(t) for t in p_ticks], fontsize=13, fontweight='bold', color='black')
    ax.set_yticks(p_minor, minor=True)
    ax.set_yticklabels([], minor=True)
    ax.tick_params(axis='x', which='major', direction='out', top=True, bottom=True, length=2, width=0.8,
                   color='#444444', pad=9)
    ax.tick_params(axis='y', which='major', direction='out', left=True, right=True, length=3, width=0.8,
                   color='#444444', pad=4.5)
    ax.tick_params(axis='y', which='minor', direction='out', left=True, right=True, length=2, width=0.8,
                   color='#444444')
    ax.set_xlabel('')
    ax.set_ylabel('')
    for sp in ax.spines.values():
        sp.set_color('#444444')
        sp.set_linewidth(0.9)
    ax.set_axisbelow(False)
    ax.text(0.072, 1.006, name, transform=ax.transAxes, fontsize=24, ha='left', va='baseline',
            color='black', zorder=8)

fig.savefig('out.png', dpi=100)
